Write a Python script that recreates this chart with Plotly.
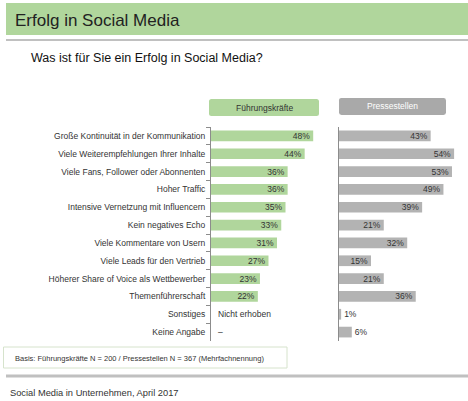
import plotly.graph_objects as go

W, H = 468, 401

categories = [
    "Große Kontinuität in der Kommunikation",
    "Viele Weiterempfehlungen Ihrer Inhalte",
    "Viele Fans, Follower oder Abonnenten",
    "Hoher Traffic",
    "Intensive Vernetzung mit Influencern",
    "Kein negatives Echo",
    "Viele Kommentare von Usern",
    "Viele Leads für den Vertrieb",
    "Höherer Share of Voice als Wettbewerber",
    "Themenführerschaft",
    "Sonstiges",
    "Keine Angabe",
]
fuehrung = [48, 44, 36, 36, 35, 33, 31, 27, 23, 22, None, None]
fuehrung_notes = ["", "", "", "", "", "", "", "", "", "", "Nicht erhoben", "–"]
presse = [43, 54, 53, 49, 39, 21, 32, 15, 21, 36, 1, 6]

series_names = ["Führungskräfte", "Pressestellen"]
title = "Erfolg in Social Media"
subtitle = "Was ist für Sie ein Erfolg in Social Media?"
basis = "Basis: Führungskräfte N = 200 / Pressestellen N = 367 (Mehrfachnennung)"
footer = "Social Media in Unternehmen, April 2017"

GREEN = "#b0d69c"
GREY_BAR = "#b3b3b3"
GREY_LEG = "#a9a9a9"
TXT = "#333333"
FONT = "Liberation Sans, Arial, sans-serif"
LBL = dict(size=8.5, color=TXT, family=FONT)


def px(x):
    return x / W


def py(y):
    return 1 - y / H


fig = go.Figure()

fig.add_trace(go.Bar(
    y=categories, x=fuehrung, orientation="h", width=0.6,
    marker=dict(color=GREEN, line=dict(width=0)),
    text=[f"{v}%" if v is not None else "" for v in fuehrung],
    textposition="inside", insidetextanchor="end", constraintext="none",
    textfont=LBL, insidetextfont=LBL,
    xaxis="x", yaxis="y", showlegend=False, cliponaxis=False, hoverinfo="skip",
))
fig.add_trace(go.Bar(
    y=categories, x=presse, orientation="h", width=0.6,
    marker=dict(color=GREY_BAR, line=dict(width=0)),
    text=[f"{v}%" for v in presse],
    textposition=["inside" if v >= 10 else "outside" for v in presse],
    insidetextanchor="end", constraintext="none",
    textfont=LBL, insidetextfont=LBL, outsidetextfont=LBL,
    xaxis="x2", yaxis="y2", showlegend=False, cliponaxis=False, hoverinfo="skip",
))

ydom = [py(341), py(127)]
fig.update_layout(
    width=W, height=H, margin=dict(l=0, r=0, t=0, b=0),
    paper_bgcolor="white", plot_bgcolor="white",
    font=dict(family=FONT, color=TXT, size=8.5),
    bargap=0.4,
    xaxis=dict(domain=[px(211), px(320)], range=[0, 51.2], visible=False, fixedrange=True),
    xaxis2=dict(domain=[px(339), px(462)], range=[0, 57.7], visible=False, fixedrange=True),
    yaxis=dict(domain=ydom, anchor="x", type="category", categoryarray=categories,
               autorange="reversed", showline=True, linecolor="#8c8c8c", linewidth=1,
               ticks="outside", ticklen=4, tickcolor="#8c8c8c", tickson="boundaries",
               ticklabelstandoff=3,
               showgrid=False, tickfont=LBL, zeroline=False, fixedrange=True),
    yaxis2=dict(domain=ydom, anchor="x2", type="category", categoryarray=categories,
                autorange="reversed", showline=True, linecolor="#8c8c8c", linewidth=1,
                showticklabels=False, ticks="", showgrid=False, zeroline=False,
                fixedrange=True),
)

shapes = [
    dict(type="rect", xref="paper", yref="paper", x0=px(6), x1=px(468), y0=py(35), y1=py(3),
         fillcolor=GREEN, line=dict(width=0), layer="below"),
    dict(type="line", xref="paper", yref="paper", x0=px(6), x1=px(468), y0=py(40), y1=py(40),
         line=dict(color="#c0c0c0", width=2)),
    dict(type="line", xref="paper", yref="paper", x0=px(6), x1=px(468), y0=py(376), y1=py(376),
         line=dict(color="#c0c0c0", width=3)),
    dict(type="rect", xref="paper", yref="paper", x0=px(3.5), x1=px(287), y0=py(368), y1=py(347),
         fillcolor="white", line=dict(color="#d6e3cc", width=1)),
]


def rounded(x0, y0, x1, y1, r, color):
    # pixel coords -> paper path
    def P(x, y):
        return f"{px(x):.5f},{py(y):.5f}"
    path = (f"M {P(x0 + r, y0)} L {P(x1 - r, y0)} Q {P(x1, y0)} {P(x1, y0 + r)} "
            f"L {P(x1, y1 - r)} Q {P(x1, y1)} {P(x1 - r, y1)} L {P(x0 + r, y1)} "
            f"Q {P(x0, y1)} {P(x0, y1 - r)} L {P(x0, y0 + r)} Q {P(x0, y0)} {P(x0 + r, y0)} Z")
    return dict(type="path", xref="paper", yref="paper", path=path,
                fillcolor=color, line=dict(width=0))


shapes.append(rounded(209, 99, 319, 116, 2.5, GREEN))
shapes.append(rounded(339, 98, 446, 115, 2.5, GREY_LEG))
fig.update_layout(shapes=shapes)

ann = [
    dict(text=title, x=px(13), y=py(20), xanchor="left", yanchor="middle",
         font=dict(size=17, color="#222222", family=FONT)),
    dict(text=subtitle, x=px(29), y=py(58), xanchor="left", yanchor="middle",
         font=dict(size=12.5, color="#111111", family=FONT)),
    dict(text=series_names[0], x=px(264), y=py(107.5), xanchor="center", yanchor="middle",
         font=dict(size=8.5, color=TXT, family=FONT)),
    dict(text=series_names[1], x=px(392.5), y=py(106.5), xanchor="center", yanchor="middle",
         font=dict(size=8.5, color="white", family=FONT)),
    dict(text=basis, x=px(13), y=py(358), xanchor="left", yanchor="middle",
         font=dict(size=7.5, color=TXT, family=FONT)),
    dict(text=footer, x=px(8), y=py(393), xanchor="left", yanchor="middle",
         font=dict(size=9.3, color=TXT, family=FONT)),
]
for a in ann:
    a.update(xref="paper", yref="paper", showarrow=False)

for cat, note in zip(categories, fuehrung_notes):
    if note:
        ann.append(dict(text=note, x=0, y=cat, xref="x", yref="y", xanchor="left",
                        yanchor="middle", xshift=5, showarrow=False, font=LBL))

fig.update_layout(annotations=ann)

fig.write_html(
    "out.html",
    config=dict(displayModeBar=False, staticPlot=True),
    post_script="document.body.style.margin='0';document.body.style.padding='0';"
                "document.documentElement.style.overflow='hidden';",
)
